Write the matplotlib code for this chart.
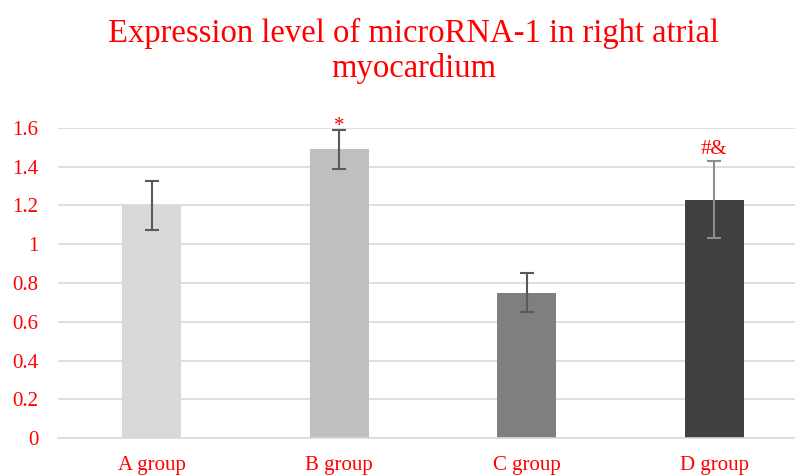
import numpy as np
import matplotlib.pyplot as plt

plt.rcParams['font.family'] = ['Liberation Serif', 'DejaVu Serif']

# Daten
groups = ['A group', 'B group', 'C group', 'D group']
values = [1.20, 1.49, 0.75, 1.23]
errors = [0.125, 0.10, 0.10, 0.20]
marks = ['', '*', '', '#&']
bar_colors = ['#d9d9d9', '#bfbfbf', '#7f7f7f', '#404040']
err_colors = ['#595959', '#595959', '#595959', '#8c8c8c']

fig = plt.figure(figsize=(7.95, 4.76), dpi=100)
ax = fig.add_axes([58 / 795, 38 / 476, 750 / 795, 310 / 476])

x = np.arange(len(groups))
ax.bar(x, values, width=0.315, color=bar_colors, zorder=2)
for i in range(len(groups)):
    ax.errorbar(x[i], values[i], yerr=errors[i], fmt='none', ecolor=err_colors[i],
                elinewidth=1.5, capsize=5, capthick=1.5, zorder=3)
    if marks[i]:
        off = -0.03 if marks[i] == '*' else 0.01
        ax.text(x[i], values[i] + errors[i] + off, marks[i], color='red',
                ha='center', va='bottom', fontsize=15)

ax.set_xlim(-0.5, 3.5)
ax.set_ylim(0, 1.6)
ax.set_yticks(np.arange(0, 1.61, 0.2))
ax.set_yticklabels(['0', '0.2', '0.4', '0.6', '0.8', '1', '1.2', '1.4', '1.6'])
ax.set_xticks(x)
ax.set_xticklabels(groups)
ax.tick_params(colors='red', labelsize=15, length=0, pad=13)
ax.tick_params(axis='y', pad=14)
ax.yaxis.grid(True, color='#d9d9d9', linewidth=1.2, zorder=0)
for s in ['top', 'right', 'left']:
    ax.spines[s].set_visible(False)
ax.spines['bottom'].set_color('#d9d9d9')
ax.spines['bottom'].set_linewidth(1.2)

fig.text(0.52, 0.963, 'Expression level of microRNA-1 in right atrial\nmyocardium',
         color='red', fontsize=23.5, ha='center', va='top', linespacing=1.2)

fig.savefig('out.png', dpi=100)
